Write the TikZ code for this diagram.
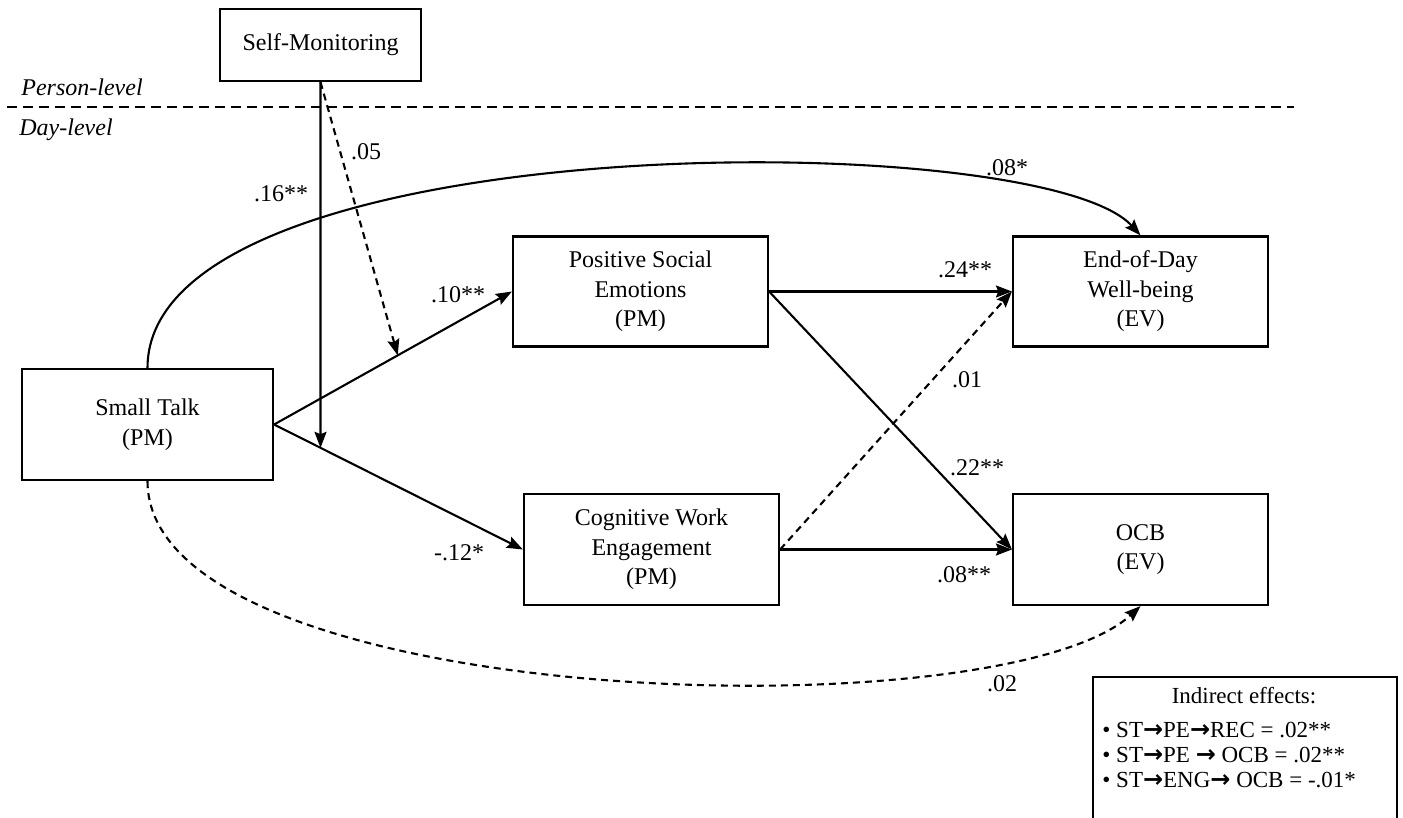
\documentclass[tikz,border=0pt]{standalone}
\usepackage{fontspec}
\setmainfont{Liberation Serif}
\newfontfamily\arrowfont{DejaVu Sans}
\usepackage{tikz}
\usetikzlibrary{positioning, arrows.meta, calc}
\newcommand{\rarr}{{\arrowfont\bfseries\fontsize{12}{12}\selectfont →}}

\begin{document}
\begin{tikzpicture}[x=0.5pt, y=-0.5pt,
    var/.style={draw, line width=1.1pt, minimum width=127.5pt, minimum height=55pt, inner sep=0pt, align=center, font=\fontsize{12}{14.8}\selectfont},
    coef/.style={inner sep=0pt, font=\fontsize{12}{14}\selectfont},
    level/.style={inner sep=0pt, anchor=west, font=\itshape\fontsize{12}{14}\selectfont},
    link/.style={line width=1.05pt, -{Stealth[length=8pt, width=6pt, inset=1.2pt]}},
    nolink/.style={link, dash pattern=on 3.5pt off 2.5pt}
]
\useasboundingbox (0,0) rectangle (1403,818);

% variables
\node (sm) [var, minimum width=100.5pt, minimum height=36pt] at (320.5,45) {Self-Monitoring};
\node (st) [var, minimum width=125.5pt, minimum height=55.5pt] at (147.5,424.5) {Small Talk\\(PM)};
\node (pse) [var] at (640.5,291.5) {Positive Social\\Emotions\\(PM)};
\node (cwe) [var, minimum height=55.5pt] at (651.5,549.5) {Cognitive Work\\Engagement\\(PM)};
\node (eod) [var] at (1140.5,291.5) {End-of-Day\\Well-being\\(EV)};
\node (ocb) [var, minimum height=55.5pt] at (1140.5,549.5) {OCB\\(EV)};

% levels
\node (person) [level] at (21,87) {Person-level};
\node (day) [level] at (19,130) {Day-level};
\coordinate (lvlA) at (7,107);
\coordinate (lvlB) at (1294,107);
\draw[line width=1.05pt, dash pattern=on 5pt off 3pt] (lvlA) -- (lvlB);

% paths
\draw[link] (st.east) -- (pse.west);
\draw[link] (st.east) -- (cwe.west);
\draw[link] (pse.east) -- (eod.west);
\draw[link] (pse.east) -- (ocb.west);
\draw[link] (cwe.east) -- (ocb.west);
\draw[nolink] (cwe.east) -- (eod.west);
\draw[link] (st.north) .. controls (147.5,125) and (1040,125) .. (eod.north);
\draw[nolink] (st.south) .. controls (147.5,710) and (1000,735) .. (ocb.south);

% moderation
\coordinate (modA) at ($(st.east)!0.52!(pse.west)$);
\coordinate (modB) at (intersection cs: first line={(sm.south)--(sm.south |- cwe.west)}, second line={(st.east)--(cwe.west)});
\draw[link] (sm.south) -- (modB);
\draw[nolink] (sm.south) -- (modA);

% coefficients
\node (c16) [coef] at (281,194) {.16**};
\node (c05) [coef] at (366,152) {.05};
\node (c08a) [coef] at (1007,168) {.08*};
\node (c10) [coef] at (458,295) {.10**};
\node (c24) [coef] at (965,270) {.24**};
\node (c01) [coef] at (967,380) {.01};
\node (c22) [coef] at (977,468) {.22**};
\node (c12) [coef] at (459,553) {-.12*};
\node (c08b) [coef] at (964,575) {.08**};
\node (c02) [coef] at (1002,684) {.02};

% indirect effects
\node (ind) [draw, line width=1.1pt, anchor=north west, minimum width=152pt, minimum height=75pt, inner sep=0pt] at (1092,676) {};
\node (indT) [coef, font=\fontsize{11.5}{13}\selectfont] at (1244,696) {Indirect effects:};
\node (ind1) [coef, anchor=west, font=\fontsize{11.5}{13}\selectfont] at (1102,730) {• ST\rarr PE\rarr REC = .02**};
\node (ind2) [coef, anchor=west, font=\fontsize{11.5}{13}\selectfont] at (1102,755) {• ST\rarr PE \rarr{} OCB = .02**};
\node (ind3) [coef, anchor=west, font=\fontsize{11.5}{13}\selectfont] at (1102,780) {• ST\rarr ENG\rarr{} OCB = -.01*};
\end{tikzpicture}
\end{document}
